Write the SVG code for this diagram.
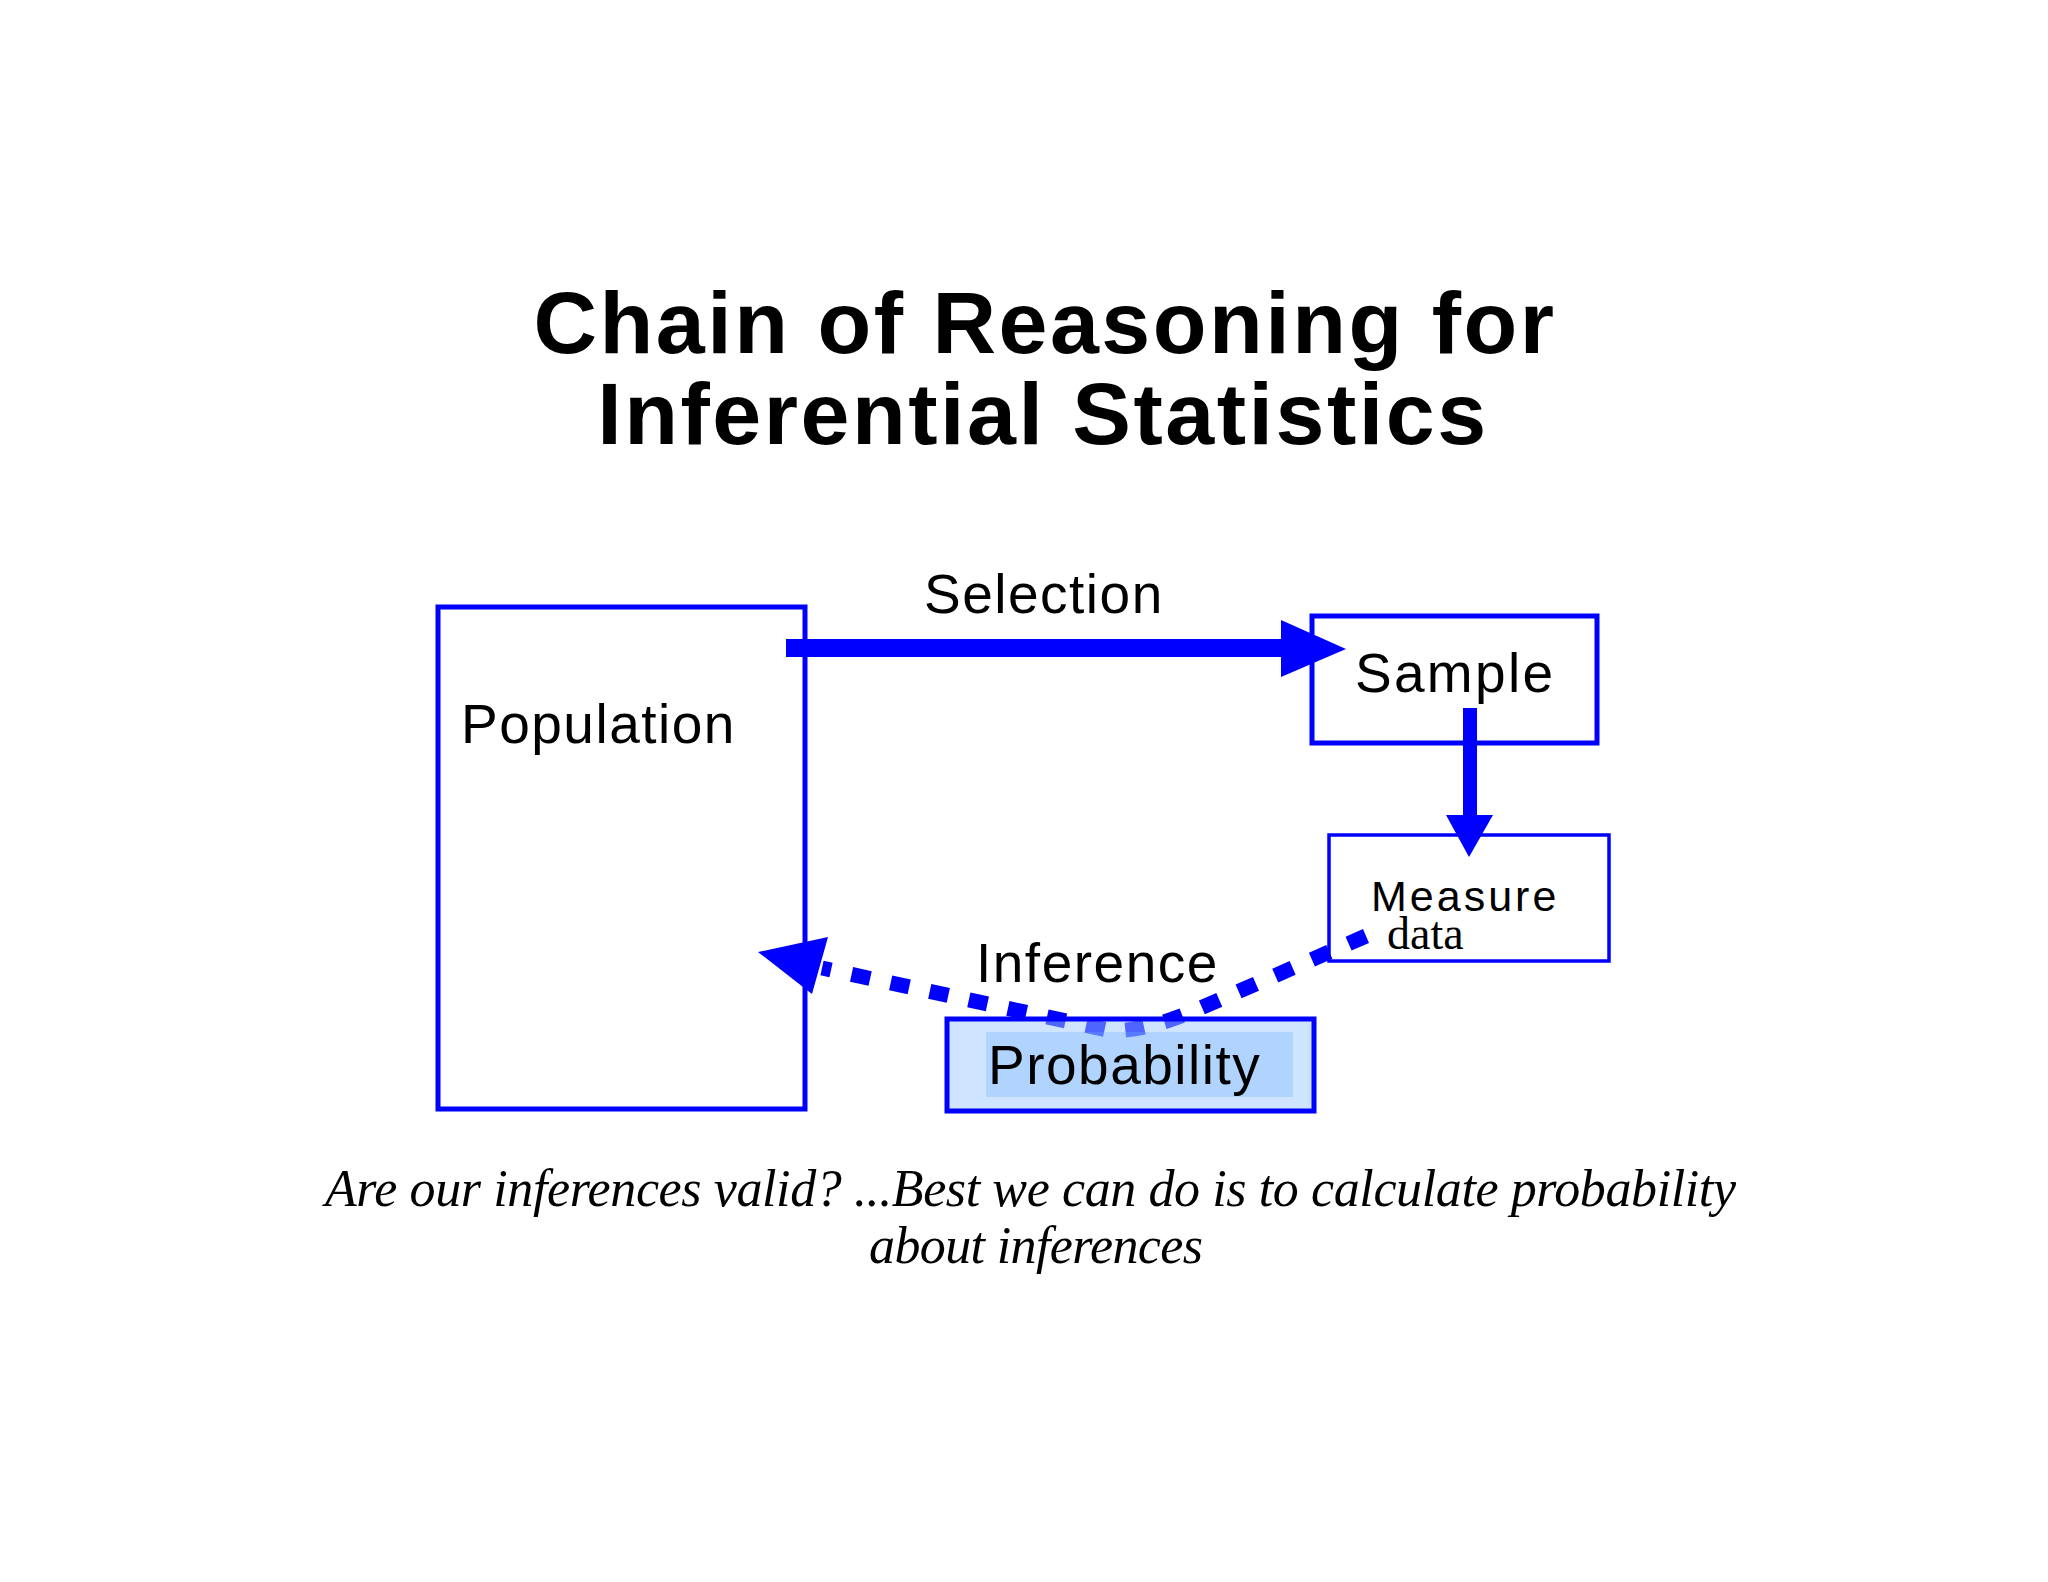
<svg xmlns="http://www.w3.org/2000/svg" width="2048" height="1582" viewBox="0 0 2048 1582">
<style>
.bg{fill:#ffffff}
.box{fill:#ffffff;stroke:#0000ff;stroke-width:5}
.lbl{font-family:"Liberation Sans",Arial,sans-serif;font-size:55px;letter-spacing:1.5px;fill:#000}
.title{font-family:"Liberation Sans",Arial,sans-serif;font-size:88px;font-weight:bold;letter-spacing:2.5px;fill:#000;text-anchor:middle}
.cap{font-family:"Liberation Serif","Times New Roman",serif;font-style:italic;font-size:52px;fill:#000}
.shaft{stroke:#0000ff;fill:none}
.head{fill:#0000ff;stroke:none}
.dots{stroke:#0000ff;fill:none;stroke-width:15;stroke-dasharray:19 21;stroke-linejoin:miter}
</style>
<rect class="bg" x="0" y="0" width="2048" height="1582"/>
<g id="title">
<text class="title" x="1045" y="353">Chain of Reasoning for</text>
<text class="title" x="1043" y="444">Inferential Statistics</text>
</g>
<g id="population">
<rect class="box" x="438" y="607" width="367" height="502"/>
<text class="lbl" x="461" y="743">Population</text>
</g>
<g id="sample">
<rect class="box" x="1312" y="616" width="285" height="127"/>
<text class="lbl" x="1355" y="692" style="letter-spacing:2.3px">Sample</text>
</g>
<g id="measure">
<rect class="box" x="1329" y="835" width="280" height="126" style="stroke-width:3.5"/>
<text class="lbl" x="1371" y="911" style="font-size:43px;letter-spacing:3px">Measure</text>
<text x="1387" y="949" style="font-family:'Liberation Serif','Times New Roman',serif;font-size:46px;fill:#000">data</text>
</g>
<g id="connectors">
<line class="shaft" x1="786" y1="648" x2="1284" y2="648" stroke-width="18"/>
<polygon class="head" points="1281,620 1346,649 1281,677"/>
<line class="shaft" x1="1470" y1="708" x2="1470" y2="818" stroke-width="14"/>
<polygon class="head" points="1446,815 1493,815 1469,857"/>
<path class="dots" d="M 1366 936 L 1196 1010 Q 1150 1030 1112 1031 L 822 968"/>
<polygon class="head" points="758,952 828,937 812,994"/>
<text class="lbl" x="924" y="613">Selection</text>
<text class="lbl" x="976" y="982">Inference</text>
</g>
<g id="probability">
<rect x="947" y="1019" width="367" height="92" fill="#9dcaff" fill-opacity="0.5" stroke="#0000ff" stroke-width="5"/>
<rect x="986" y="1032" width="307" height="65" fill="#6cafff" fill-opacity="0.3"/>
<text class="lbl" x="988" y="1084">Probability</text>
</g>
<g id="caption">
<text class="cap" x="325" y="1206" textLength="1411" lengthAdjust="spacing">Are our inferences valid? ...Best we can do is to calculate probability</text>
<text class="cap" x="869" y="1263" textLength="334" lengthAdjust="spacing">about inferences</text>
</g>
</svg>
